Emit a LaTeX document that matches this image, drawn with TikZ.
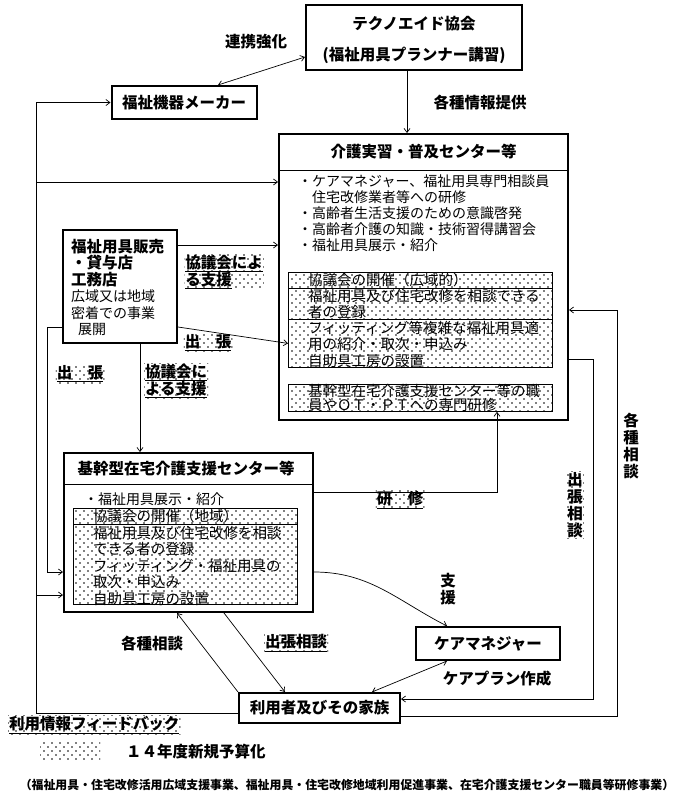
\documentclass[tikz,border=0pt]{standalone}
\usepackage{fontspec}
\setmainfont{Noto Sans CJK JP}
\usetikzlibrary{arrows.meta, patterns}
\newcommand{\fs}[2]{\fontsize{#1}{#2}\selectfont}
\newcommand{\ulin}[1]{\underline{#1}}
\pgfdeclarepatternformonly{sparsedots}{\pgfqpoint{-1pt}{-1pt}}{\pgfqpoint{7pt}{7pt}}{\pgfqpoint{8pt}{8pt}}{%
  \pgfpathcircle{\pgfqpoint{0pt}{0pt}}{0.9pt}%
  \pgfpathcircle{\pgfqpoint{4pt}{4pt}}{0.9pt}%
  \pgfusepath{fill}}

\begin{document}
\begin{tikzpicture}[
    x=1pt, y=-1pt,
    >={Straight Barb[length=4pt, width=6pt]},
    box/.style={draw, line width=2pt, inner sep=0pt},
    title/.style={font=\bfseries\fs{15.5}{18}, inner sep=0pt},
    listtxt/.style={font=\fs{14}{16}, align=left, anchor=north west, inner sep=0pt},
    zonetxt/.style={font=\fs{14.5}{16.5}, align=left, anchor=west, inner sep=0pt},
    zone/.style={draw, line width=0.8pt, pattern=sparsedots, inner sep=0pt, anchor=north west},
    link/.style={->, line width=0.7pt},
    dlink/.style={<->, line width=0.7pt},
    lbl/.style={font=\bfseries\fs{15.5}{17}, inner sep=1pt, align=left},
    newlbl/.style={lbl, pattern=sparsedots}
]
\path[use as bounding box, fill=white] (0,0) rectangle (689,803);

% Nodes
\node[box, minimum width=216pt, minimum height=65pt] (techno) at (414,37.5) {};
\node[title] (technoname) at (414,24) {テクノエイド協会};
\node[title] (technosub) at (414,55) {(福祉用具プランナー講習)};

\node[box, title, minimum width=145pt, minimum height=33pt] (maker) at (184,102.5) {福祉機器メーカー};

\node[box, minimum width=289pt, minimum height=286pt] (kaigo) at (423.5,277) {};
\draw[line width=1pt] (kaigo.west |- 0,170) -- (kaigo.east |- 0,170);
\node[title] (kaigohead) at (423.5,152) {介護実習・普及センター等};
\node[listtxt] (kaigolist) at (298,175) {・ケアマネジャー、福祉用具専門相談員\\　住宅改修業者等への研修\\・高齢者生活支援のための意識啓発\\・高齢者介護の知識・技術習得講習会\\・福祉用具展示・紹介};
\node[zone, minimum width=264pt, minimum height=16pt] (kz1) at (288,272) {};
\node[zone, minimum width=264pt, minimum height=31pt] (kz2) at (288,288) {};
\node[zone, minimum width=264pt, minimum height=48pt] (kz3) at (288,319) {};
\node[zone, minimum width=264pt, minimum height=27pt] (kz4) at (288,384) {};
\node[zonetxt] (kz1t) at (308,280) {協議会の開催（広域的）};
\node[zonetxt] (kz2t) at (308,304) {福祉用具及び住宅改修を相談できる\\者の登録};
\node[zonetxt] (kz3t) at (308,344) {フィッティング等複雑な福祉用具適\\用の紹介・取次・申込み\\自助具工房の設置};
\node[zonetxt, font=\fs{14.5}{13.5}] (kz4t) at (308,398) {基幹型在宅介護支援センター等の職\\員やＯＴ・ＰＴへの専門研修};

\node[box, minimum width=114pt, minimum height=113pt] (hanbai) at (120,286.5) {};
\node[listtxt, font=\fs{14}{16.5}] (hanbaitxt) at (71,239) {{\bfseries\fs{15.5}{16.5}福祉用具販売}\\{\bfseries\fs{15.5}{16.5}・貸与店}\\{\bfseries\fs{15.5}{16.5}工務店}\\広域又は地域\\密着での事業\\\hspace*{7pt}展開};

\node[box, minimum width=249pt, minimum height=159pt] (kikan) at (188.5,532.5) {};
\draw[line width=1pt] (kikan.west |- 0,484) -- (kikan.east |- 0,484);
\node[title] (kikanhead) at (186,469) {基幹型在宅介護支援センター等};
\node[listtxt] (kikanlist) at (84,493) {・福祉用具展示・紹介};
\node[zone, minimum width=224pt, minimum height=16pt] (kj1) at (73,508) {};
\node[zone, minimum width=224pt, minimum height=80pt] (kj2) at (73,524) {};
\node[zonetxt] (kj1t) at (93,516) {協議会の開催（地域）};
\node[zonetxt] (kj2t) at (93,566) {福祉用具及び住宅改修を相談\\できる者の登録\\フィッティング・福祉用具の\\取次・申込み\\自助具工房の設置};

\node[box, title, minimum width=144pt, minimum height=33pt] (careman) at (488,643.5) {ケアマネジャー};
\node[box, title, minimum width=161pt, minimum height=30pt] (riyou) at (319.5,708) {利用者及びその家族};

\coordinate (fbbot) at (36,713);
\coordinate (fbtop) at (36,102.5);
\coordinate (fbkaigo) at (36,182);
\coordinate (fbkikan) at (36,595);
\coordinate (triptop) at (47,327);
\coordinate (tripbot) at (47,572);
\coordinate (kenshu) at (497,492);
\coordinate (sodanA) at (593,359);
\coordinate (sodanB) at (593,699);
\coordinate (sodanC) at (617,716);
\coordinate (sodanD) at (617,310);

% Arrows
\draw[dlink] (techno.west |- 0,57) -- (maker.north -| 218,0);
\draw[link] (techno.south -| 407,0) -- (kaigo.north -| 407,0);
\draw[link] (riyou.west |- fbbot) -- (fbbot) -- (fbtop) -- (maker.west);
\draw[link] (fbkaigo) -- (kaigo.west |- fbkaigo);
\draw[link] (fbkikan) -- (kikan.west |- fbkikan);
\draw[link] (hanbai.east |- 0,245) -- (kaigo.west |- 0,245);
\draw[link] (hanbai.east |- triptop) -- (kz3.west);
\draw[link] (hanbai.west |- triptop) -- (triptop) -- (tripbot) -- (kikan.west |- tripbot);
\draw[link] (hanbai.south -| 140,0) -- (kikan.north -| 140,0);
\draw[link] (kikan.east |- kenshu) -- (kenshu) -- (kz4.south -| kenshu);
\draw[link] (kikan.east |- 0,572) to[out=0, in=153] ([xshift=-41pt]careman.north);
\draw[dlink] ([xshift=-41pt]careman.south) -- (riyou.north -| 372,0);
\draw[link] (riyou.north west) -- (kikan.south -| 177,0);
\draw[link] (kikan.south -| 224,0) -- (riyou.north -| 285,0);
\draw[link] (kaigo.east |- sodanA) -- (sodanA) -- (sodanB) -- (riyou.east |- sodanB);
\draw[link] (riyou.east |- sodanC) -- (sodanC) -- (sodanD) -- (kaigo.east |- sodanD);

% Labels
\node[lbl] (renkei) at (256,42) {連携強化};
\node[lbl] (joho) at (480,103) {各種情報提供};
\node[newlbl] (kyogi1) at (224,272) {\ulin{協議会によ}\\\ulin{る支援}};
\node[newlbl] (shutcho1) at (208,343) {\ulin{出　張}};
\node[newlbl] (shutcho2) at (80,374) {\ulin{出　張}};
\node[newlbl] (kyogi2) at (176,381) {\ulin{協議会に}\\\ulin{よる支援}};
\node[newlbl] (kenshulbl) at (400,500) {\ulin{研　修}};
\node[lbl, align=center] (shien) at (448,589) {支\\援};
\node[lbl] (careplan) at (497,679) {ケアプラン作成};
\node[lbl] (kakushu1) at (152,644) {各種相談};
\node[newlbl] (shutcho3) at (296,643) {\ulin{出張相談}};
\node[newlbl, align=center] (shutcho4) at (575,505) {出\\張\\相\\談};
\node[lbl, align=center] (kakushu2) at (631,446) {各\\種\\相\\談};
\node[newlbl, anchor=west] (feedback) at (8,725) {\ulin{利用情報フィードバック}};

% Legend
\node[pattern=sparsedots, minimum width=60pt, minimum height=20pt, inner sep=0pt] (legendpatch) at (70,750) {};
\node[lbl, anchor=west] (legendtxt) at (125,752) {１４年度新規予算化};
\node[font=\bfseries\fs{11.9}{14}, inner sep=0pt] (footnote) at (347,785) {（福祉用具・住宅改修活用広域支援事業、福祉用具・住宅改修地域利用促進事業、在宅介護支援センター職員等研修事業）};

\end{tikzpicture}
\end{document}
